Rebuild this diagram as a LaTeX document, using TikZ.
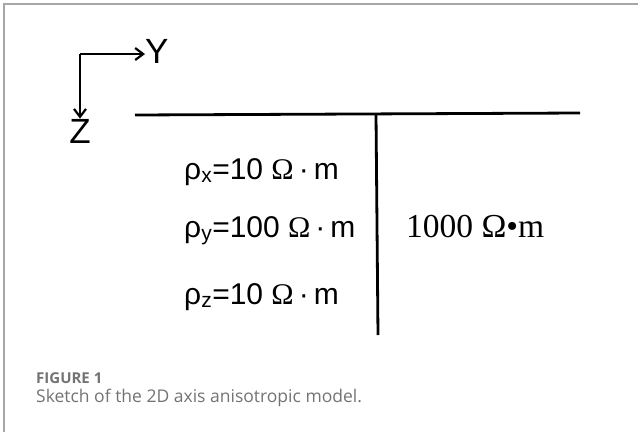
\documentclass[tikz,border=0pt]{standalone}
\usepackage{fontspec}
\setmainfont{Liberation Sans}
\newfontfamily\capfont{Open Sans}
\newfontfamily\serfont{Liberation Serif}
\usetikzlibrary{arrows.meta,positioning}

\begin{document}
\begin{tikzpicture}[
  x=1pt, y=-1pt,
  axis/.style={-{Straight Barb[length=8pt,width=12pt,line width=2.2pt]}, line width=2.4pt},
  boundary/.style={line width=2.8pt},
  axlabel/.style={font=\fontsize{35}{37}\selectfont, inner sep=0pt},
  rho/.style={font=\fontsize{30}{32}\selectfont, inner sep=0pt, anchor=base west},
  caption/.style={text=black!55, inner sep=0pt, anchor=base west},
]
\useasboundingbox (0,0) rectangle (638,432);

% ── frame ──
\draw[black!35, line width=1.2pt] (4,432) -- (4,4) -- (638,4);

% ── axes ──
\coordinate (origin) at (80,54);
\node[axlabel, anchor=base west] (ylab) at (145,63) {Y};
\node[axlabel, anchor=base] (zlab) at (80,143) {Z};
\draw[axis] (origin) -- (ylab.west |- origin);
\draw[axis] (origin) -- (zlab.north);

% ── model boundaries ──
\coordinate (surfl) at (135,115);
\coordinate (surfr) at (580,113);
\coordinate (topb) at (376,114);
\coordinate (botb) at (378,335);
\draw[boundary] (surfl) -- (surfr);
\draw[boundary] (topb) -- (botb);

% ── left block ──
\node[rho] (rhox) at (184,179) {ρ\textsubscript{x}=10 {\serfont Ω}\,·\,m};
\node[rho] (rhoy) at (184,237) {ρ\textsubscript{y}=100 {\serfont Ω}\,·\,m};
\node[rho] (rhoz) at (184,304) {ρ\textsubscript{z}=10 {\serfont Ω}\,·\,m};

% ── right block ──
\node[font=\serfont\fontsize{33.5}{35}\selectfont, inner sep=0pt, anchor=base west] (right) at (406,237) {1000 Ω•m};

% ── caption ──
\node[caption, font=\capfont\fontsize{15}{17}\selectfont\bfseries] (fig) at (36,383) {FIGURE 1};
\node[caption, font=\capfont\fontsize{17.5}{19}\selectfont] (cap) at (36,402) {Sketch of the 2D axis anisotropic model.};
\end{tikzpicture}
\end{document}
